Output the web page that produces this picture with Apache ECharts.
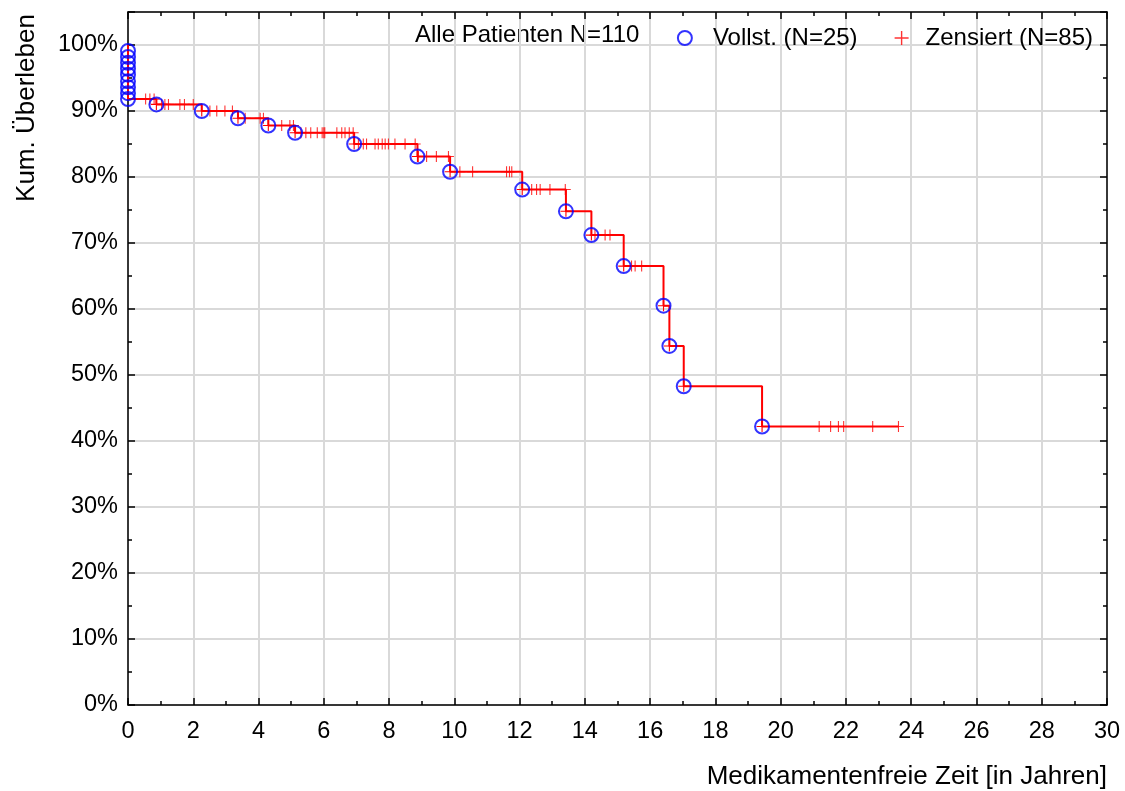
<!DOCTYPE html>
<html lang="de">
<head>
    <meta charset="UTF-8">
    <title>Kum. Überleben</title>
    <script src="https://cdn.jsdelivr.net/npm/echarts@6/dist/echarts.min.js"></script>
    <style>
        html, body { margin: 0; padding: 0; background: #fff; }
        #main { width: 1125px; height: 791px; }
    </style>
</head>
<body>
<div id="main"></div>
<script type="text/javascript">
    // Ereignisse bei t=0 (9 Patienten)
    var zeroLevels = [99.1, 98.2, 97.3, 96.4, 95.5, 94.5, 93.6, 92.7, 91.8];
    // vollständige Ereignisse (Zeit in Jahren, Überleben in % danach)
    var eventTimes = [0.87, 2.26, 3.37, 4.3, 5.12, 6.93, 8.87, 9.87, 12.08, 13.42, 14.2, 15.19, 16.41, 16.59, 17.03, 19.43];
    var eventLevels = [91.0, 90.0, 88.9, 87.8, 86.7, 85.0, 83.1, 80.8, 78.1, 74.8, 71.2, 66.5, 60.5, 54.4, 48.3, 42.2];
    // zensierte Fälle (Zeit in Jahren)
    var censorTimes = [
        0.54, 0.67, 0.8,
        1.03, 1.13, 1.24, 1.59, 1.73, 2.0,
        2.51, 2.72, 2.97, 3.2,
        3.59, 4.05, 4.15,
        4.71, 4.96, 5.07,
        5.3, 5.45, 5.6, 5.8, 5.95, 6.0, 6.03, 6.4, 6.55, 6.65, 6.78, 6.9,
        7.06, 7.21, 7.31, 7.57, 7.67, 7.79, 7.88, 7.98, 8.18, 8.49, 8.8,
        8.9, 9.15, 9.45, 9.82,
        10.17, 10.56, 11.6, 11.69, 11.76,
        12.37, 12.52, 12.63, 12.93, 13.4,
        14.31, 14.62, 14.77,
        15.43, 15.54, 15.74,
        21.18, 21.53, 21.77, 21.93, 22.82, 23.61
    ];
    var xTicks = {min: 0, max: 30, interval: 2};
    var yTicks = {min: 0, max: 105, interval: 10};

    var plusPath = 'path://M-0.1,-1 L0.1,-1 L0.1,-0.1 L1,-0.1 L1,0.1 L0.1,0.1 L0.1,1 L-0.1,1 L-0.1,0.1 L-1,0.1 L-1,-0.1 L-0.1,-0.1 Z';
    var FONT = 'Liberation Sans, Arial, sans-serif';

    var startLevel = zeroLevels[zeroLevels.length - 1];

    // Stufenlinie
    var stepData = [{value: [0, 100], symbol: 'none'}, {value: [0, startLevel], symbol: 'none'}];
    for (var i = 0; i < eventTimes.length; i++) {
        stepData.push({value: [eventTimes[i], eventLevels[i]]});
    }
    var lastTime = Math.max.apply(null, censorTimes);
    stepData.push({value: [lastTime, eventLevels[eventLevels.length - 1]], symbol: 'none'});

    // Niveau der Kurve zu einem Zeitpunkt
    function levelAt(t) {
        var lv = startLevel;
        for (var k = 0; k < eventTimes.length; k++) {
            if (eventTimes[k] <= t) lv = eventLevels[k];
        }
        return lv;
    }

    var circleData = [];
    for (var j = 0; j < zeroLevels.length; j++) circleData.push([0, zeroLevels[j]]);
    for (var i2 = 0; i2 < eventTimes.length; i2++) circleData.push([eventTimes[i2], eventLevels[i2]]);

    var censorData = censorTimes.map(function (t) { return [t, levelAt(t)]; });

    var myChart = echarts.init(document.getElementById('main'));

    function tick() {
        return {show: true, inside: true, length: 7, lineStyle: {color: '#000', width: 1.5}};
    }
    function minor() {
        return {show: true, splitNumber: 2, length: 4, lineStyle: {color: '#000', width: 1.5}};
    }

    myChart.setOption({
        backgroundColor: '#ffffff',
        animation: false,
        textStyle: {fontFamily: FONT},
        grid: {left: 128, right: 18, top: 12, bottom: 86},
        legend: {
            right: 27,
            top: 21,
            itemGap: 37,
            itemWidth: 14,
            itemHeight: 14,
            textStyle: {fontSize: 24, color: '#000', fontFamily: FONT, padding: [0, 0, 0, 12]},
            data: [
                {
                    name: 'Vollst. (N=25)', icon: 'circle',
                    itemStyle: {color: 'rgba(0,0,0,0)', borderColor: '#0000ff', borderWidth: 2},
                    textStyle: {padding: [0, 0, 0, 16]}
                },
                {name: 'Zensiert (N=85)', icon: plusPath, itemStyle: {color: '#ff0000'}}
            ]
        },
        graphic: [
            {
                type: 'text', left: 415, top: 23,
                style: {text: 'Alle Patienten N=110', font: '24px ' + FONT, fill: '#000'}
            },
            {
                type: 'text', x: 27, y: 108, rotation: Math.PI / 2,
                style: {text: 'Kum. Überleben', font: '26px ' + FONT, fill: '#000', align: 'center', verticalAlign: 'middle'}
            },
            {
                type: 'text', right: 18, bottom: 1,
                style: {text: 'Medikamentenfreie Zeit [in Jahren]', font: '26px ' + FONT, fill: '#000'}
            }
        ],
        xAxis: [
            {
                type: 'value', min: xTicks.min, max: xTicks.max, interval: xTicks.interval,
                axisLine: {show: true, onZero: false, lineStyle: {color: '#000', width: 1.5}},
                axisTick: tick(),
                minorTick: minor(),
                axisLabel: {fontSize: 23.5, color: '#000', margin: 15, fontFamily: FONT},
                splitLine: {show: true, lineStyle: {color: '#d9d9d9', width: 2}}
            },
            {
                type: 'value', position: 'top', min: xTicks.min, max: xTicks.max, interval: xTicks.interval,
                axisLine: {show: true, onZero: false, lineStyle: {color: '#000', width: 1.5}},
                axisTick: tick(),
                minorTick: minor(),
                axisLabel: {show: false},
                splitLine: {show: false}
            }
        ],
        yAxis: [
            {
                type: 'value', min: yTicks.min, max: yTicks.max, interval: yTicks.interval,
                axisLine: {show: true, onZero: false, lineStyle: {color: '#000', width: 1.5}},
                axisTick: tick(),
                minorTick: minor(),
                axisLabel: {
                    fontSize: 23.5, color: '#000', margin: 10, fontFamily: FONT,
                    formatter: function (v) { return v > 100 ? '' : v + '%'; }
                },
                splitLine: {show: true, lineStyle: {color: '#d9d9d9', width: 2}}
            },
            {
                type: 'value', position: 'right', min: yTicks.min, max: yTicks.max, interval: yTicks.interval,
                axisLine: {show: true, onZero: false, lineStyle: {color: '#000', width: 1.5}},
                axisTick: tick(),
                minorTick: minor(),
                axisLabel: {show: false},
                splitLine: {show: false}
            }
        ],
        series: [
            {
                name: 'Kurve',
                type: 'line',
                step: 'end',
                data: stepData,
                symbol: plusPath,
                symbolSize: 11,
                showAllSymbol: true,
                itemStyle: {color: '#ff0000'},
                lineStyle: {color: '#ff0000', width: 2},
                z: 3
            },
            {
                name: 'Zensiert (N=85)',
                type: 'scatter',
                data: censorData,
                symbol: plusPath,
                symbolSize: 11,
                itemStyle: {color: '#ff0000'},
                z: 4
            },
            {
                name: 'Vollst. (N=25)',
                type: 'scatter',
                data: circleData,
                symbol: 'circle',
                symbolSize: 14,
                itemStyle: {color: 'rgba(0,0,0,0)', borderColor: '#0000ff', borderWidth: 2},
                z: 5
            }
        ]
    });
    window.addEventListener('resize', function () {
        myChart.resize();
    });
</script>
</body>
</html>
